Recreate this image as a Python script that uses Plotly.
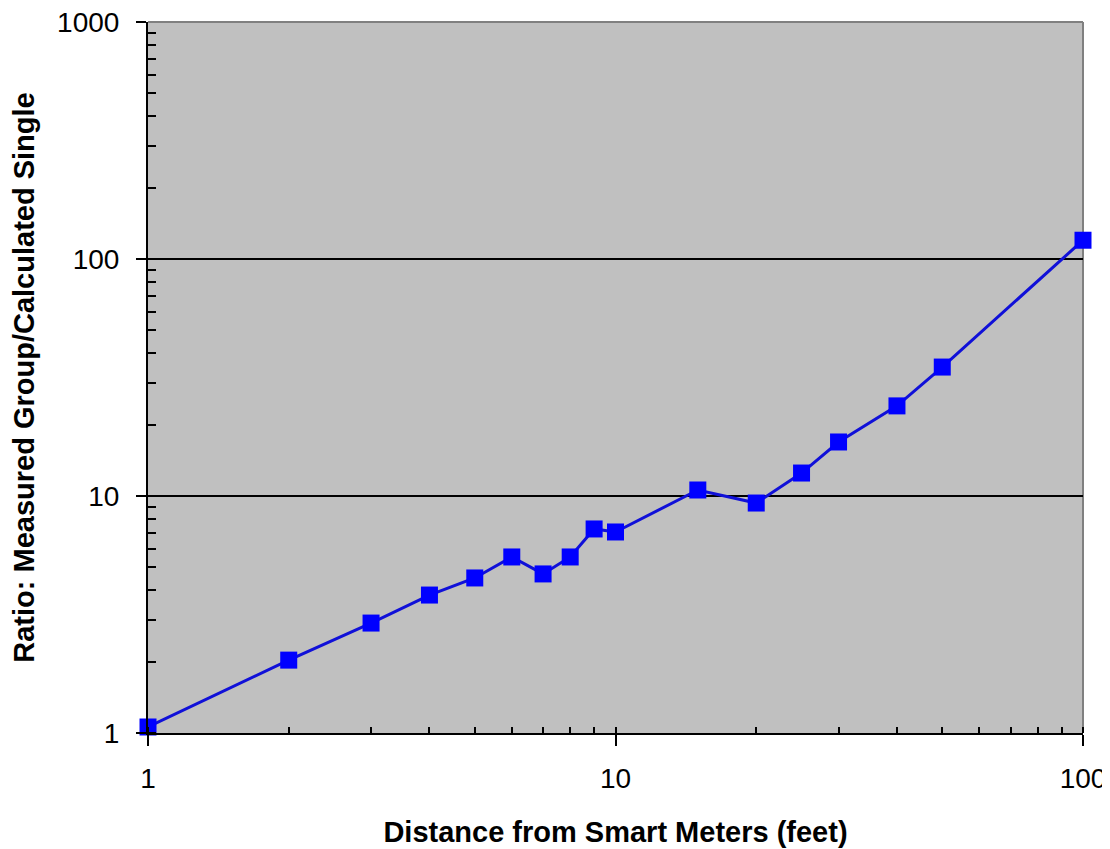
import plotly.graph_objects as go

distance_ft = [1, 2, 3, 4, 5, 6, 7, 8, 9, 10, 15, 20, 25, 30, 40, 50, 100]
ratio = [1.06, 2.03, 2.91, 3.82, 4.51, 5.53, 4.69, 5.53, 7.26, 7.05, 10.6, 9.34, 12.5, 16.9, 24.0, 35.0, 120]

x_title = "Distance from Smart Meters (feet)"
y_title = "Ratio: Measured Group/Calculated Single"
x_tickvals = [1, 10, 100]
y_tickvals = [1, 10, 100, 1000]

fig = go.Figure()
fig.add_trace(go.Scatter(
    x=distance_ft, y=ratio, mode="lines+markers",
    line=dict(color="#1010d8", width=3),
    marker=dict(symbol="square", size=17, color="#0000ff"),
    cliponaxis=False, showlegend=False,
))

tickfont = dict(family="Liberation Sans, Arial, sans-serif", size=28, color="black")
titlefont = dict(family="Liberation Sans, Arial, sans-serif", size=29, color="black", weight="bold")

fig.update_layout(
    width=1102, height=841,
    margin=dict(l=140, r=27, t=14, b=116),
    paper_bgcolor="white", plot_bgcolor="#c0c0c0",
    xaxis=dict(
        type="log", range=[0, 2], automargin=False,
        tickvals=x_tickvals, ticktext=[str(v) for v in x_tickvals],
        ticks="outside", ticklen=11, tickwidth=1.5, tickcolor="black",
        showline=True, linecolor="black", linewidth=2,
        showgrid=False, zeroline=False,
        tickfont=tickfont, ticklabelstandoff=8, ticklabeloverflow="allow",
        minor=dict(ticks="inside", ticklen=6, tickwidth=1.5, tickcolor="black", dtick="D1", showgrid=False),
        title=dict(text=x_title, font=titlefont, standoff=29),
    ),
    yaxis=dict(
        type="log", range=[0, 3], automargin=False,
        tickvals=y_tickvals, ticktext=[str(v) for v in y_tickvals],
        ticks="outside", ticklen=10, tickwidth=1.5, tickcolor="black",
        showline=True, linecolor="black", linewidth=2,
        showgrid=True, gridcolor="black", gridwidth=1.5, zeroline=False,
        tickfont=tickfont, ticklabelstandoff=11, ticklabeloverflow="allow",
        minor=dict(ticks="inside", ticklen=8, tickwidth=1.5, tickcolor="black", dtick="D1", showgrid=False),
        title=dict(text=y_title, font=titlefont, standoff=25),
    ),
    shapes=[
        dict(type="line", xref="paper", yref="paper", x0=0, x1=1, y0=1, y1=1,
             line=dict(color="#808080", width=2), layer="above"),
        dict(type="line", xref="paper", yref="paper", x0=1, x1=1, y0=0, y1=1,
             line=dict(color="#808080", width=2), layer="below"),
    ],
)

fig.write_html("out.html")
